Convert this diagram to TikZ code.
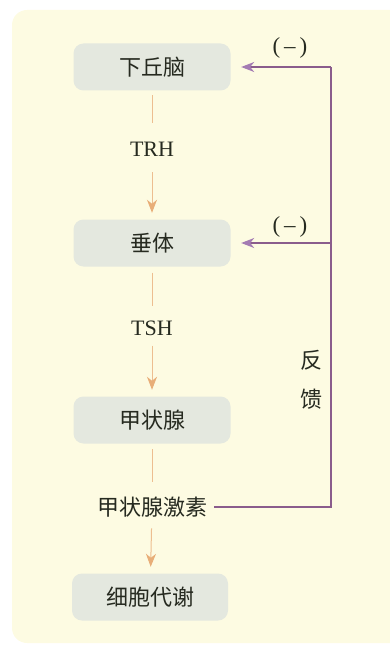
\documentclass[tikz,border=0pt]{standalone}
\usepackage{fontspec}
\newfontfamily\cjk{Noto Sans CJK SC}
\newfontfamily\lat{Liberation Serif}
\usetikzlibrary{arrows.meta}
\definecolor{bgyellow}{HTML}{FDFBE2}
\definecolor{boxfill}{HTML}{E4E8DF}
\definecolor{txt}{HTML}{262A20}
\definecolor{orangeline}{HTML}{EDBE90}
\definecolor{orangehead}{HTML}{E8AE78}
\definecolor{purpleline}{HTML}{8A5C8C}
\definecolor{purplehead}{HTML}{A47BB3}
\tikzset{
  box/.style={fill=boxfill, rounded corners=10pt, minimum width=157pt, minimum height=47pt,
    inner sep=0pt, text=txt, font=\cjk\fontsize{22}{22}\selectfont},
  cjklbl/.style={inner sep=0pt, text=txt, font=\cjk\fontsize{22}{22}\selectfont},
  latlbl/.style={inner sep=0pt, text=txt, font=\lat\fontsize{22}{22}\selectfont},
  minus/.style={inner sep=0pt, text=txt, font=\lat\fontsize{23}{23}\selectfont},
  oline/.style={draw=orangeline, line width=1pt},
  oarrow/.style={oline, -{Stealth[length=13pt,width=10pt,inset=4pt,color=orangehead]}},
  pline/.style={draw=purpleline, line width=1.2pt},
  parrow/.style={pline, -{Stealth[length=13pt,width=10pt,inset=4pt,color=purplehead]}}
}
\begin{document}
\begin{tikzpicture}[x=1pt,y=-1pt]
\useasboundingbox (0,0) rectangle (390,647);
\clip (0,0) rectangle (390,647);
\fill[bgyellow, rounded corners=15pt] (12,10) rectangle (420,643);

\node[box] (hyp) at (152,67) {下丘脑};
\node[box] (pit) at (152,243) {垂体};
\node[box] (thy) at (152,420) {甲状腺};
\node[box, minimum width=156pt] (met) at (150,597) {细胞代谢};

\node[latlbl] (trh) at (152,149) {TRH};
\node[latlbl] (tsh) at (152,328) {TSH};
\node[cjklbl] (hor) at (152,507) {甲状腺激素};

\draw[oline, shorten <=4.5pt, shorten >=19pt] (hyp) -- (trh);
\draw[oarrow, shorten <=16pt, shorten >=6.5pt] (trh) -- (pit);
\draw[oline, shorten <=6pt, shorten >=14.5pt] (pit) -- (tsh);
\draw[oarrow, shorten <=10pt, shorten >=6.5pt] (tsh) -- (thy);
\draw[oline, shorten <=5.5pt, shorten >=14.5pt] (thy) -- (hor);
\draw[oarrow, shorten <=11pt, shorten >=6.5pt] (hor) -- (met);

\coordinate (ctop) at (331,67);
\coordinate (cmid) at (331,243);
\draw[pline, shorten <=7pt] (hor.east) -| (ctop);
\draw[parrow, shorten >=10.5pt] (ctop) -- (hyp.east);
\draw[parrow, shorten >=10.5pt] (cmid) -- (pit.east);

\node[minus] (m1) at (290,48) {(\hspace{4pt}–\hspace{4pt})};
\node[minus] (m2) at (290,227) {(\hspace{4pt}–\hspace{4pt})};
\node[cjklbl] (fan) at (311,360) {反};
\node[cjklbl] (kui) at (311,399) {馈};
\end{tikzpicture}
\end{document}
